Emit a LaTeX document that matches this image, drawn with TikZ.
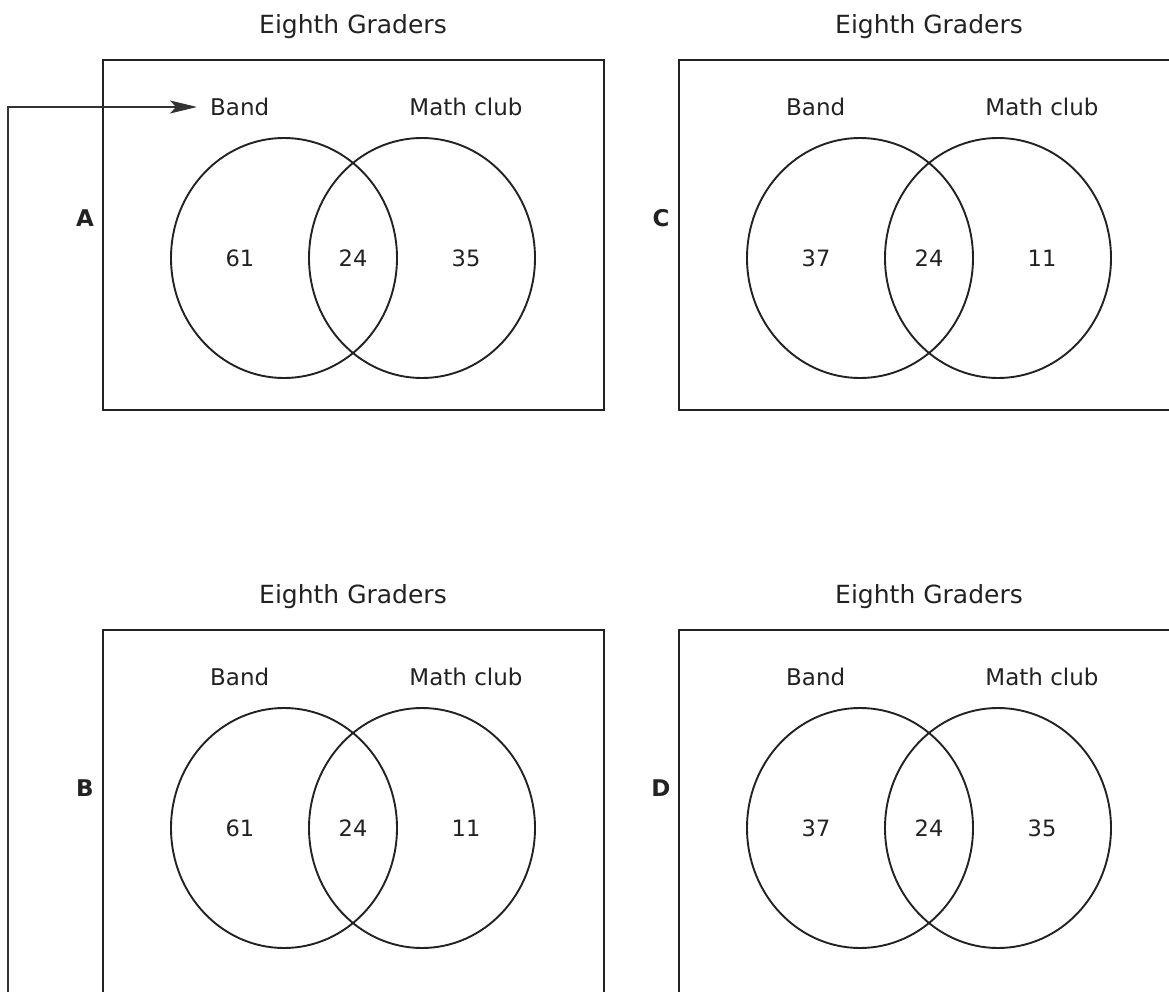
\documentclass[tikz,border=0pt]{standalone}
\usepackage{fontspec}
\setmainfont{DejaVu Sans}
\usetikzlibrary{arrows.meta,shapes.geometric}
\definecolor{ink}{HTML}{222222}
\begin{document}
\begin{tikzpicture}[x=1pt,y=-1pt,
  ttl/.style={font=\fontsize{25}{30}\selectfont, text=ink, inner sep=0pt},
  txt/.style={font=\fontsize{23}{28}\selectfont, text=ink, inner sep=0pt},
  num/.style={font=\fontsize{22.5}{27}\selectfont, text=ink, inner sep=0pt},
  ltr/.style={font=\fontsize{23}{28}\selectfont\bfseries, text=ink, inner sep=0pt},
  frame/.style={draw=ink, line width=2pt},
  venn/.style={draw=ink, line width=1.9pt},
  pointer/.style={draw=black!80, line width=1.1pt, -{Stealth[length=27pt,width=13pt,inset=6pt]}}]
\useasboundingbox (0,0) rectangle (1169,992);
\clip (0,0) rectangle (1169,992);
% panels
\foreach \name/\dx/\dy/\a/\b/\c in {A/0/0/61/24/35, C/576/0/37/24/11, B/0/570/61/24/11, D/576/570/37/24/35}{
  \begin{scope}[shift={(\dx,\dy)}]
    \node[ttl] (title\name) at (353,27) {Eighth Graders};
    \node[ltr] (lab\name) at (85,218) {\name};
    \node[txt, anchor=west] (band\name) at (210,107) {Band};
    \node[txt] (math\name) at (466,107) {Math club};
    \node[venn, ellipse, minimum width=226pt, minimum height=240pt, inner sep=0pt] (L\name) at (284,258) {};
    \node[venn, ellipse, minimum width=226pt, minimum height=240pt, inner sep=0pt] (R\name) at (422,258) {};
    \node[num] (n1\name) at (240,258) {\a};
    \node[num] (n2\name) at (353,258) {\b};
    \node[num] (n3\name) at (466,258) {\c};
  \end{scope}
}
\draw[frame] (103,60) rectangle (604,410);
\draw[frame] (679,60) rectangle (1190,410);
\draw[frame] (103,1015) |- (604,630) -- (604,1015);
\draw[frame] (679,1015) |- (1190,630);
\coordinate (start) at (8,1000);
\draw[pointer] (start) |- ([xshift=-13pt]bandA.west);
\end{tikzpicture}
\end{document}
